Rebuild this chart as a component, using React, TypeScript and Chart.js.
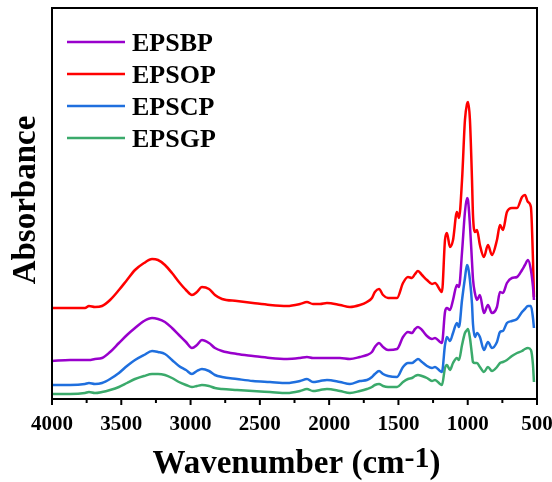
import { useEffect, useRef } from 'react';
import { Chart, registerables } from 'chart.js';

Chart.register(...registerables);

const serif = '"Liberation Serif", "Times New Roman", Times, serif';

// wavenumber (cm-1)
const wavenumbers = [
  4000, 3870, 3762, 3733, 3690, 3639, 3581, 3517, 3459, 3401, 3336, 3278,
  3235, 3185, 3134, 3084, 3033, 2990, 2954, 2918, 2867, 2824, 2773, 2665,
  2550, 2427, 2304, 2210, 2160, 2117, 2066, 2016, 1922, 1850, 1778, 1727,
  1691, 1670, 1640, 1611, 1575, 1510, 1467, 1431, 1402, 1380, 1359, 1330,
  1294, 1258, 1236, 1200, 1186, 1164, 1150, 1128, 1106, 1078, 1063, 1041,
  1020, 1005, 998, 984, 969, 962, 948, 933, 912, 883, 854, 825,
  789, 767, 746, 717, 681, 644, 608, 587, 565, 544, 529, 522,
];

// absorbance (a.u., stacked offsets as plotted)
const epsbp = [
  0.38, 0.39, 0.39, 0.39, 0.40, 0.41, 0.47, 0.56, 0.64, 0.71, 0.78, 0.81,
  0.80, 0.77, 0.71, 0.64, 0.57, 0.51, 0.54, 0.59, 0.56, 0.51, 0.48, 0.45,
  0.43, 0.41, 0.40, 0.41, 0.42, 0.41, 0.41, 0.41, 0.41, 0.40, 0.42, 0.44,
  0.47, 0.52, 0.56, 0.52, 0.49, 0.50, 0.62, 0.67, 0.66, 0.70, 0.72, 0.69,
  0.63, 0.60, 0.61, 0.57, 0.56, 0.87, 0.91, 0.89, 0.99, 1.14, 1.12, 1.47,
  1.87, 2.01, 1.99, 1.74, 1.37, 1.20, 1.06, 0.99, 1.04, 0.86, 0.94, 0.86,
  0.92, 1.07, 1.06, 1.16, 1.21, 1.22, 1.29, 1.34, 1.39, 1.29, 1.12, 0.99,
];

const epsop = [
  0.91, 0.91, 0.91, 0.93, 0.92, 0.93, 0.99, 1.09, 1.19, 1.29, 1.36, 1.40,
  1.39, 1.34, 1.26, 1.17, 1.09, 1.04, 1.07, 1.12, 1.10, 1.04, 1.00, 0.98,
  0.96, 0.94, 0.93, 0.95, 0.97, 0.95, 0.95, 0.96, 0.94, 0.92, 0.94, 0.97,
  1.01, 1.07, 1.10, 1.04, 1.01, 1.01, 1.16, 1.22, 1.21, 1.25, 1.28, 1.24,
  1.19, 1.15, 1.16, 1.09, 1.07, 1.59, 1.66, 1.52, 1.59, 1.87, 1.81, 2.19,
  2.79, 2.95, 2.97, 2.79, 2.19, 1.84, 1.67, 1.69, 1.54, 1.42, 1.54, 1.44,
  1.59, 1.74, 1.69, 1.87, 1.91, 1.91, 2.02, 2.04, 1.97, 1.92, 1.39, 1.02,
];

const epscp = [
  0.14, 0.14, 0.15, 0.16, 0.15, 0.16, 0.20, 0.26, 0.33, 0.39, 0.44, 0.48,
  0.47, 0.45, 0.39, 0.33, 0.29, 0.25, 0.28, 0.30, 0.28, 0.24, 0.22, 0.20,
  0.18, 0.17, 0.16, 0.18, 0.20, 0.17, 0.18, 0.19, 0.17, 0.15, 0.18, 0.19,
  0.22, 0.25, 0.28, 0.25, 0.23, 0.22, 0.32, 0.36, 0.36, 0.38, 0.40, 0.37,
  0.33, 0.31, 0.32, 0.28, 0.27, 0.54, 0.62, 0.58, 0.66, 0.76, 0.72, 0.99,
  1.21, 1.34, 1.32, 1.19, 0.95, 0.75, 0.62, 0.66, 0.62, 0.49, 0.57, 0.51,
  0.57, 0.67, 0.68, 0.76, 0.78, 0.80, 0.87, 0.90, 0.93, 0.93, 0.81, 0.71,
];

const epsgp = [
  0.05, 0.05, 0.06, 0.07, 0.06, 0.07, 0.09, 0.12, 0.16, 0.20, 0.23, 0.25,
  0.25, 0.24, 0.21, 0.17, 0.14, 0.12, 0.13, 0.14, 0.13, 0.11, 0.10, 0.09,
  0.08, 0.07, 0.06, 0.08, 0.10, 0.08, 0.09, 0.10, 0.08, 0.06, 0.08, 0.10,
  0.12, 0.14, 0.15, 0.13, 0.12, 0.12, 0.17, 0.20, 0.21, 0.23, 0.24, 0.23,
  0.21, 0.18, 0.19, 0.15, 0.14, 0.31, 0.34, 0.29, 0.36, 0.41, 0.39, 0.54,
  0.66, 0.69, 0.70, 0.61, 0.44, 0.37, 0.36, 0.36, 0.32, 0.27, 0.32, 0.28,
  0.32, 0.36, 0.37, 0.39, 0.43, 0.46, 0.48, 0.50, 0.51, 0.49, 0.34, 0.17,
];

const majorTicks = [4000, 3500, 3000, 2500, 2000, 1500, 1000, 500];
const minorTicks = [3750, 3250, 2750, 2250, 1750, 1250, 750];

const series = [
  { label: 'EPSBP', values: epsbp, color: '#9900CC' },
  { label: 'EPSOP', values: epsop, color: '#FF0000' },
  { label: 'EPSCP', values: epscp, color: '#1F6FDE' },
  { label: 'EPSGP', values: epsgp, color: '#3BAA6B' },
];

const decor = {
  id: 'decor',
  afterDraw(chart: Chart) {
    const { ctx, chartArea: a } = chart;
    const xs = chart.scales.x;
    ctx.save();

    // frame + outward ticks
    ctx.strokeStyle = '#000';
    ctx.lineWidth = 2;
    ctx.strokeRect(a.left, a.top, a.right - a.left, a.bottom - a.top);
    const marks = [...majorTicks.map(v => [v, 6]), ...minorTicks.map(v => [v, 4])];
    marks.forEach(([v, len]) => {
      const px = xs.getPixelForValue(v);
      ctx.beginPath();
      ctx.moveTo(px, a.bottom);
      ctx.lineTo(px, a.bottom + len);
      ctx.stroke();
    });

    // legend inside the plot
    ctx.font = `bold 26px ${serif}`;
    ctx.textBaseline = 'alphabetic';
    chart.data.datasets.forEach((ds: any, i: number) => {
      const y = 42 + i * 32;
      ctx.strokeStyle = ds.borderColor;
      ctx.lineWidth = 2.5;
      ctx.beginPath();
      ctx.moveTo(67, y);
      ctx.lineTo(125, y);
      ctx.stroke();
      ctx.fillStyle = '#000';
      ctx.fillText(ds.label, 132, y + 9);
    });

    // y title
    ctx.save();
    ctx.translate(35, 200);
    ctx.rotate(-Math.PI / 2);
    ctx.font = `bold 33px ${serif}`;
    ctx.textAlign = 'center';
    ctx.fillText('Absorbance', 0, 0);
    ctx.restore();

    // x title with superscript
    const main = 'Wavenumber (cm';
    const sup = '-1';
    ctx.font = `bold 33px ${serif}`;
    const w1 = ctx.measureText(main).width;
    const w3 = ctx.measureText(')').width;
    ctx.font = `bold 30px ${serif}`;
    const w2 = ctx.measureText(sup).width;
    const start = (a.left + a.right) / 2 + 2 - (w1 + w2 + w3) / 2;
    ctx.font = `bold 33px ${serif}`;
    ctx.fillText(main, start, 473);
    ctx.fillText(')', start + w1 + w2, 473);
    ctx.font = `bold 30px ${serif}`;
    ctx.fillText(sup, start + w1, 467);

    ctx.restore();
  },
};

export default function App() {
  const canvasRef = useRef<HTMLCanvasElement>(null);
  const chartRef = useRef<Chart | null>(null);

  useEffect(() => {
    if (!canvasRef.current) return;
    chartRef.current?.destroy();

    chartRef.current = new Chart(canvasRef.current, {
      type: 'line',
      data: {
        datasets: series.map(s => ({
          label: s.label,
          data: wavenumbers.map((x, i) => ({ x, y: s.values[i] })),
          borderColor: s.color,
          backgroundColor: s.color,
          borderWidth: 2.5,
          pointRadius: 0,
          cubicInterpolationMode: 'monotone' as const,
        })),
      },
      options: {
        animation: false,
        responsive: true,
        maintainAspectRatio: false,
        layout: { padding: { left: 52, top: 8, right: 15, bottom: 0 } },
        plugins: { legend: { display: false }, tooltip: { enabled: false } },
        scales: {
          x: {
            type: 'linear',
            reverse: true,
            min: 500,
            max: 4000,
            grid: { display: false, drawTicks: false },
            border: { display: false },
            afterBuildTicks: (s: any) => { s.ticks = majorTicks.map(value => ({ value })); },
            afterFit: (s: any) => {
              s.height = 83;
              s.paddingLeft = 0;
              s.paddingRight = 0;
            },
            ticks: {
              color: '#000',
              padding: 13,
              maxRotation: 0,
              autoSkip: false,
              font: { family: serif, size: 21, weight: 'bold' },
              callback: (v: any) => String(v),
            },
          },
          y: { display: false, min: 0, max: 3.91 },
        },
      },
      plugins: [decor],
    });

    return () => { chartRef.current?.destroy(); };
  }, []);

  return (
    <div style={{ position: 'fixed', left: 0, top: 0, width: 552, height: 482, background: '#fff' }}>
      <canvas ref={canvasRef} />
    </div>
  );
}
